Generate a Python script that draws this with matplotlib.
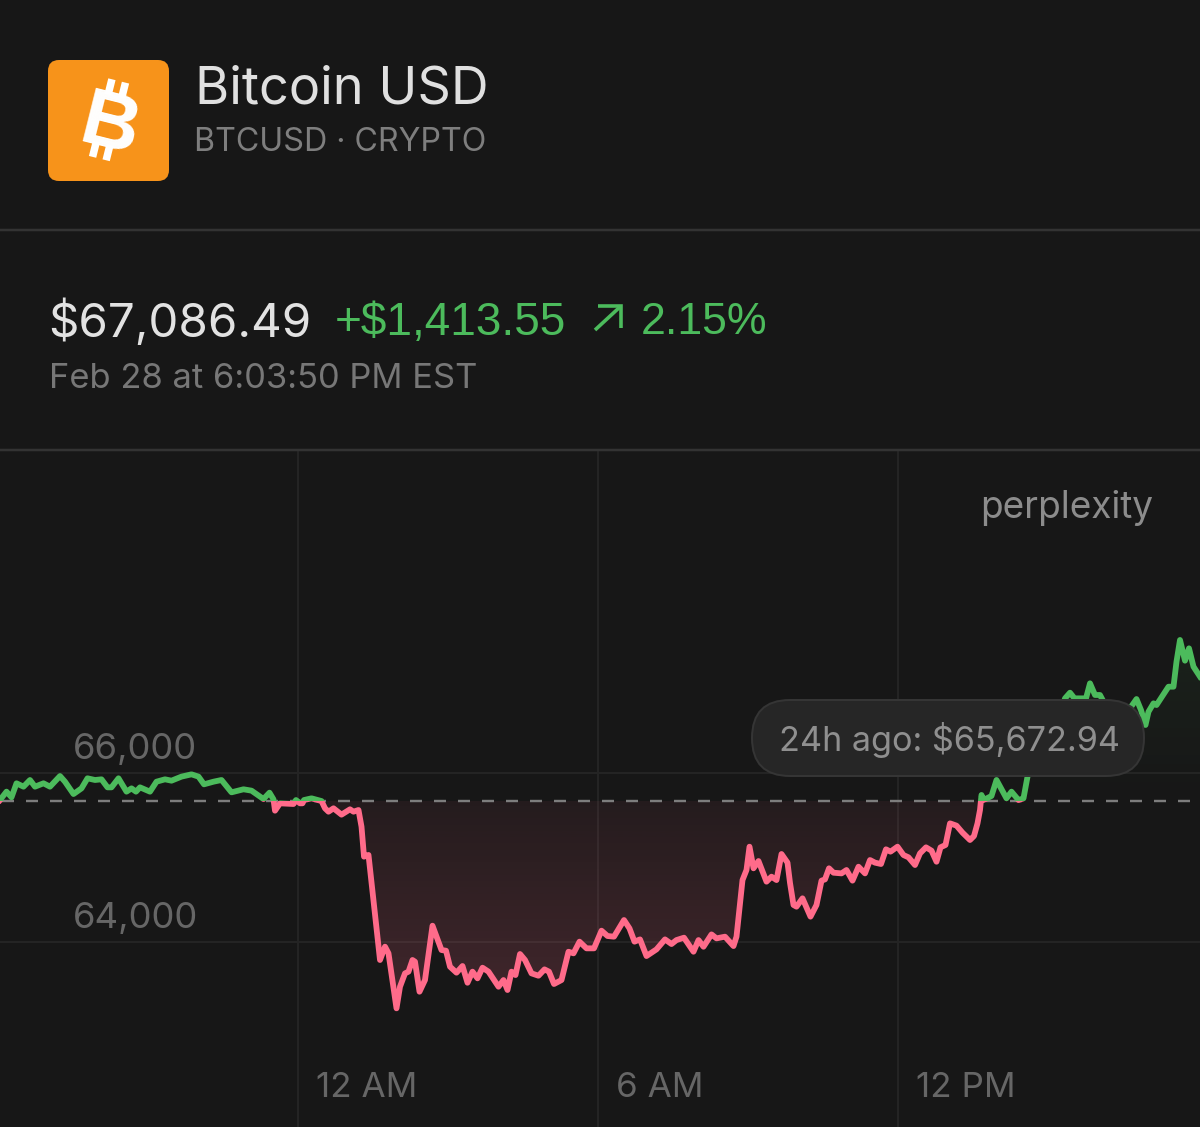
import numpy as np
import matplotlib
matplotlib.use("Agg")
import matplotlib.pyplot as plt
from matplotlib.patches import FancyBboxPatch, Rectangle
from matplotlib.path import Path
from matplotlib.transforms import ScaledTranslation

# ---- data (hours relative to midnight, USD) ----
hours = [-5.96,-5.83,-5.73,-5.63,-5.49,-5.36,-5.26,-5.09,-4.96,-4.76,-4.66,-4.49,-4.33,-4.21,-4.06,-3.93,-3.81,-3.73,-3.59,-3.43,
 -3.33,-3.24,-3.16,-2.96,-2.83,-2.66,-2.53,-2.33,-2.13,-1.99,-1.88,-1.69,-1.53,-1.33,-1.09,-0.93,-0.69,-0.57,-0.49,-0.46,
 -0.36,-0.09,-0.04,0.04,0.09,0.12,0.27,0.47,0.54,0.61,0.71,0.87,1.04,1.11,1.21,1.27,1.32,1.41,1.64,1.74,1.81,1.97,
 2.04,2.14,2.21,2.29,2.34,2.43,2.54,2.69,2.87,2.96,3.04,3.17,3.29,3.39,3.49,3.59,3.69,3.81,4.01,4.11,4.19,4.27,4.35,4.44,4.54,
 4.67,4.81,4.93,5.02,5.12,5.27,5.41,5.51,5.63,5.77,5.92,6.07,6.19,6.32,6.52,6.63,6.73,6.84,6.97,7.17,7.34,7.47,7.57,7.72,7.91,
 8.01,8.11,8.27,8.37,8.54,8.71,8.77,8.89,8.97,9.03,9.11,9.21,9.37,9.47,9.57,9.67,9.79,9.84,9.91,9.97,10.09,10.25,10.37,10.47,
 10.54,10.62,10.71,10.87,10.97,11.09,11.21,11.34,11.44,11.54,11.66,11.76,11.85,11.99,12.11,12.21,12.34,12.44,12.56,12.67,12.77,
 12.85,12.95,13.04,13.17,13.29,13.44,13.52,13.59,13.64,13.67,13.71,13.87,13.97,14.17,14.27,14.41,14.51,14.59,14.70,14.85,15.00,
 15.15,15.25,15.34,15.44,15.53,15.76,15.84,15.94,16.04,16.11,16.20,16.40,16.55,16.64,16.77,16.86,16.95,17.01,17.11,17.17,17.41,
 17.51,17.57,17.64,17.74,17.82,17.91,18.04]
prices = [65680,65779,65712,65878,65838,65917,65838,65878,65838,65964,65897,65751,65818,65937,65917,65925,65830,65830,65937,65779,
 65818,65779,65830,65779,65897,65925,65909,65957,65984,65957,65866,65897,65917,65771,65807,65791,65692,65767,65688,65554,
 65641,65633,65680,65641,65641,65680,65700,65668,65582,65542,65582,65507,65570,65542,65562,65365,65010,65030,63787,63945,63866,63215,
 63471,63629,63649,63787,63767,63412,63550,64193,63905,63897,63708,63637,63716,63518,63649,63570,63696,63649,63471,63550,63432,63649,63609,63858,63787,
 63629,63601,63676,63649,63503,63550,63885,63866,64004,63925,63925,64134,64071,64063,64260,64161,64004,64031,63834,63913,64031,63976,64023,64051,63885,
 64023,63944,64090,64043,64063,63952,64063,64733,64852,65128,64872,64958,64714,64773,64733,65041,64939,64700,64438,64418,64517,64300,64438,64726,
 64741,64872,64820,64812,64852,64726,64891,64812,64970,64939,64923,65097,65069,65128,65029,65002,64911,65049,65120,65081,64950,
 65120,65148,65404,65377,65294,65207,65254,65404,65562,65740,65680,65728,65917,65700,65779,65680,65700,65956,66150,66400,66550,
 66500,66700,66883,66950,66883,66883,67061,66923,66923,66844,66600,66550,66620,66765,66875,66745,66568,66725,66824,66804,67021,
 67021,67317,67574,67329,67475,67258,67140]
prev_close = 65672.94
y_ticks = [64000, 66000]
y_labels = ["64,000", "66,000"]
x_ticks = [0, 6, 12]
x_labels = ["12 AM", "6 AM", "12 PM"]

title = "Bitcoin USD"
subtitle = "BTCUSD · CRYPTO"
price_text = "$67,086.49"
change_text = "+$1,413.55"
pct_text = "2.15%"
date_text = "Feb 28 at 6:03:50 PM EST"
tooltip_text = "24h ago: $65,672.94"
brand = "perplexity"

# ---- style ----
BG = "#171717"
GREEN = "#4CBB5C"
PINK = "#FF6B8A"
plt.rcParams["font.family"] = ["Inter", "DejaVu Sans"]
W, H = 1200, 1127
fig = plt.figure(figsize=(W/100, H/100), dpi=100, facecolor=BG)

def px(p):
    return p * 0.72

# ---- chart axes ----
top = 451
ax = fig.add_axes([0, 0, 1, (H-top)/H], facecolor=BG)
xmin, xmax = -5.96, 18.04
ymin, ymax = 61811, 69810

h = np.array(hours); p = np.array(prices)
grad = np.linspace(0, 1, 256).reshape(-1, 1)

# red area below the reference price
rgba = np.zeros((256, 1, 4))
rgba[..., :3] = matplotlib.colors.to_rgb(PINK)
rgba[..., 3] = (0.06 + 0.13*grad[::-1])
low = 63200
im = ax.imshow(rgba, extent=(xmin, xmax, prev_close, low), aspect="auto", zorder=1, origin="upper")
poly = ax.fill_between(h, p, prev_close, where=p <= prev_close, interpolate=True, color="none", lw=0)
im.set_clip_path(Path.make_compound_path(*poly.get_paths()), ax.transData)

# green area above the reference price
rgba2 = np.zeros((256, 1, 4))
rgba2[..., :3] = matplotlib.colors.to_rgb(GREEN)
rgba2[..., 3] = (0.07*grad[::-1])
im2 = ax.imshow(rgba2, extent=(xmin, xmax, prev_close, 67600), aspect="auto", zorder=1, origin="upper")
poly2 = ax.fill_between(h, p, prev_close, where=p >= prev_close, interpolate=True, color="none", lw=0)
im2.set_clip_path(Path.make_compound_path(*poly2.get_paths()), ax.transData)

ax.axhline(prev_close, color="#7d7d7d", lw=px(2.4), ls=(11/1.2, (5, 5)), zorder=2, dash_capstyle="butt")

l1, = ax.plot(h, p, color=GREEN, lw=px(5.8), solid_joinstyle="round", zorder=3)
l2, = ax.plot(h, p, color=PINK, lw=px(5.8), solid_joinstyle="round", zorder=3)
l1.set_clip_path(Rectangle((xmin, prev_close), xmax-xmin, ymax-prev_close, transform=ax.transData))
l2.set_clip_path(Rectangle((xmin, ymin), xmax-xmin, prev_close-ymin, transform=ax.transData))

ax.set_xlim(xmin, xmax)
ax.set_ylim(ymin, ymax)
for s in ax.spines.values():
    s.set_visible(False)
ax.set_xticks(x_ticks, x_labels)
ax.set_yticks(y_ticks, y_labels)
ax.grid(True, color="#242424", lw=px(2), zorder=0)
ax.set_axisbelow(True)
ax.tick_params(axis="x", length=0, pad=px(-55), labelsize=px(35), labelcolor="#666666")
ax.tick_params(axis="y", length=0, pad=px(-73), labelsize=px(36.5), labelcolor="#666666")
for t in ax.get_xticklabels():
    t.set_ha("left")
    t.set_transform(t.get_transform() + ScaledTranslation(0.18, 0, fig.dpi_scale_trans))
for t in ax.get_yticklabels():
    t.set_ha("left")
    t.set_transform(t.get_transform() + ScaledTranslation(0, 0.27, fig.dpi_scale_trans))

# ---- overlay in pixel coordinates ----
ui = fig.add_axes([0, 0, 1, 1], zorder=5)
ui.set_xlim(0, W); ui.set_ylim(H, 0); ui.axis("off")

# separators
ui.plot([0, W], [230, 230], color="#333333", lw=px(2.5))
ui.plot([0, W], [450, 450], color="#333333", lw=px(2.5))

# icon
ui.add_patch(FancyBboxPatch((48, 60), 121, 121, boxstyle="round,pad=0,rounding_size=11",
                            fc="#F7931A", ec="none"))
ang = np.deg2rad(14)
cx, cy = 110, 120
def rot(dx, dy):
    return cx + dx*np.cos(ang) - dy*np.sin(ang), cy + dx*np.sin(ang) + dy*np.cos(ang)
for dx in (-8, 6):
    for y0, y1 in ((-40, -24), (24, 40)):
        a = rot(dx, y0); b = rot(dx, y1)
        ui.plot([a[0], b[0]], [a[1], b[1]], color="white", lw=px(7.5), solid_capstyle="butt")
ui.text(cx, cy+8, "B", color="white", fontsize=px(80), fontweight="bold", rotation=-14,
        rotation_mode="anchor", ha="center", va="center", family=["Liberation Sans"])

ui.text(195, 84, title, color="#E0E0E0", fontsize=px(52.3), ha="left", va="center_baseline")
ui.text(194, 139, subtitle, color="#7E7E7E", fontsize=px(32.2), ha="left", va="center_baseline")
lib = ["Liberation Sans"]
ui.text(48, 318, price_text, color="#E2E2E2", fontsize=px(47.5), ha="left", va="center_baseline")
ui.text(335, 318, change_text, color=GREEN, fontsize=px(46), ha="left", va="center_baseline", family=lib)
ui.text(641, 318, pct_text, color=GREEN, fontsize=px(44.7), ha="left", va="center_baseline", family=lib)
ui.plot([595, 621], [330, 306], color=GREEN, lw=px(3.6), solid_capstyle="butt")
ui.plot([598, 621, 621], [306, 306, 328], color=GREEN, lw=px(3.6), solid_joinstyle="miter", solid_capstyle="butt")
ui.text(49, 376, date_text, color="#777777", fontsize=px(34.5), ha="left", va="center_baseline")
ui.text(980, 504, brand, color="#8C8C8C", fontsize=px(37), ha="left", va="center_baseline")

# tooltip
ui.add_patch(FancyBboxPatch((752, 700), 392, 76, boxstyle="round,pad=0,rounding_size=38",
                            fc="#262626", ec="#353535", lw=px(2)))
ui.text(779, 737, tooltip_text, color="#8F8F8F", fontsize=px(34.2), ha="left", va="center_baseline")

fig.savefig("out.png", dpi=100, facecolor=BG)
